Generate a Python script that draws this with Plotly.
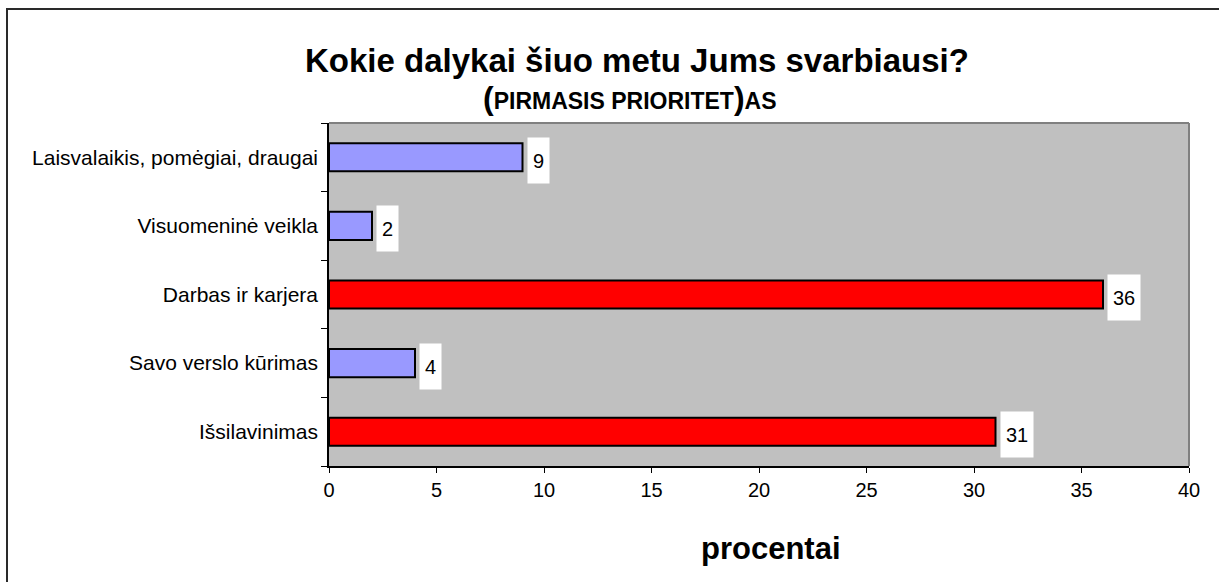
import plotly.graph_objects as go

categories = ["Išsilavinimas", "Savo verslo kūrimas", "Darbas ir karjera",
              "Visuomeninė veikla", "Laisvalaikis, pomėgiai, draugai"]
values = [31, 4, 36, 2, 9]
colors = ["#FF0000", "#9999FF", "#FF0000", "#9999FF", "#9999FF"]
x_ticks = [0, 5, 10, 15, 20, 25, 30, 35, 40]

FONT = "Liberation Sans, Arial, sans-serif"
L, R, T, B = 329, 30, 123, 116
W, H = 1219, 582
PW, PH = W - L - R, H - T - B


def px_to_paper(px, py):
    return (px - L) / PW, (H - B - py) / PH


fig = go.Figure()
fig.add_trace(go.Bar(
    y=categories, x=values, orientation="h",
    marker=dict(color=colors, line=dict(color="#000000", width=2)),
    width=0.41, hoverinfo="skip",
))

annotations = []
for c, v in zip(categories, values):
    s = str(v)
    annotations.append(dict(
        x=v, y=c, xref="x", yref="y", text=s, showarrow=False,
        xanchor="left", xshift=4, yshift=-3,
        bgcolor="white", borderpad=0, width=10 + 11 * len(s), height=45,
        align="center", font=dict(family=FONT, size=20, color="black"),
    ))

tx, ty = px_to_paper(637, 61)
annotations.append(dict(
    x=tx, y=ty, xref="paper", yref="paper", xanchor="center", yanchor="middle",
    text="<b>Kokie dalykai šiuo metu Jums svarbiausi?</b>",
    showarrow=False, font=dict(family=FONT, size=33, color="black"),
))
sx, sy = px_to_paper(630, 98)
annotations.append(dict(
    x=sx, y=sy, xref="paper", yref="paper", xanchor="center", yanchor="middle",
    text="<b><span style='font-size:32px'>(</span>PIRMASIS PRIORITET<span style='font-size:32px'>)</span>AS</b>",
    showarrow=False, font=dict(family=FONT, size=23, color="black"),
))
ax, ay = px_to_paper(771, 548)
annotations.append(dict(
    x=ax, y=ay, xref="paper", yref="paper", xanchor="center", yanchor="middle",
    text="<b>procentai</b>", showarrow=False,
    font=dict(family=FONT, size=31, color="black"),
))

fig.update_layout(
    width=W, height=H,
    margin=dict(l=L, r=R, t=T, b=B),
    paper_bgcolor="white", plot_bgcolor="#C0C0C0",
    showlegend=False,
    font=dict(family=FONT, size=20, color="black"),
    annotations=annotations,
)

fig.update_xaxes(
    range=[0, 40], tickvals=x_ticks, ticktext=[str(t) for t in x_ticks],
    showgrid=False, zeroline=False, showline=True, linecolor="#000000", linewidth=1.5,
    ticks="outside", ticklen=5, tickcolor="#000000", tickwidth=1,
    tickfont=dict(family=FONT, size=20, color="black"), fixedrange=True,
)
fig.update_yaxes(
    categoryorder="array", categoryarray=categories,
    showgrid=False, showline=True, linecolor="#000000", linewidth=1.5,
    ticks="outside", tickson="boundaries", ticklen=6, tickcolor="#000000", tickwidth=1,
    tickfont=dict(family=FONT, size=21, color="black"), ticklabelstandoff=5,
    fixedrange=True,
)

# gray top/right plot border
fig.add_shape(type="line", xref="paper", yref="paper", x0=0, x1=1, y0=1, y1=1,
              line=dict(color="#808080", width=2))
fig.add_shape(type="line", xref="paper", yref="paper", x0=1, x1=1, y0=0, y1=1,
              line=dict(color="#808080", width=2))
# outer chart border
bx0, by0 = px_to_paper(7, 9)
bx1, by1 = px_to_paper(1240, 600)
fig.add_shape(type="rect", xref="paper", yref="paper", x0=bx0, x1=bx1, y0=by1, y1=by0,
              line=dict(color="#2a2a2a", width=2))

fig.write_html("out.html", config={"displayModeBar": False},
               post_script="document.body.style.margin='0';")
